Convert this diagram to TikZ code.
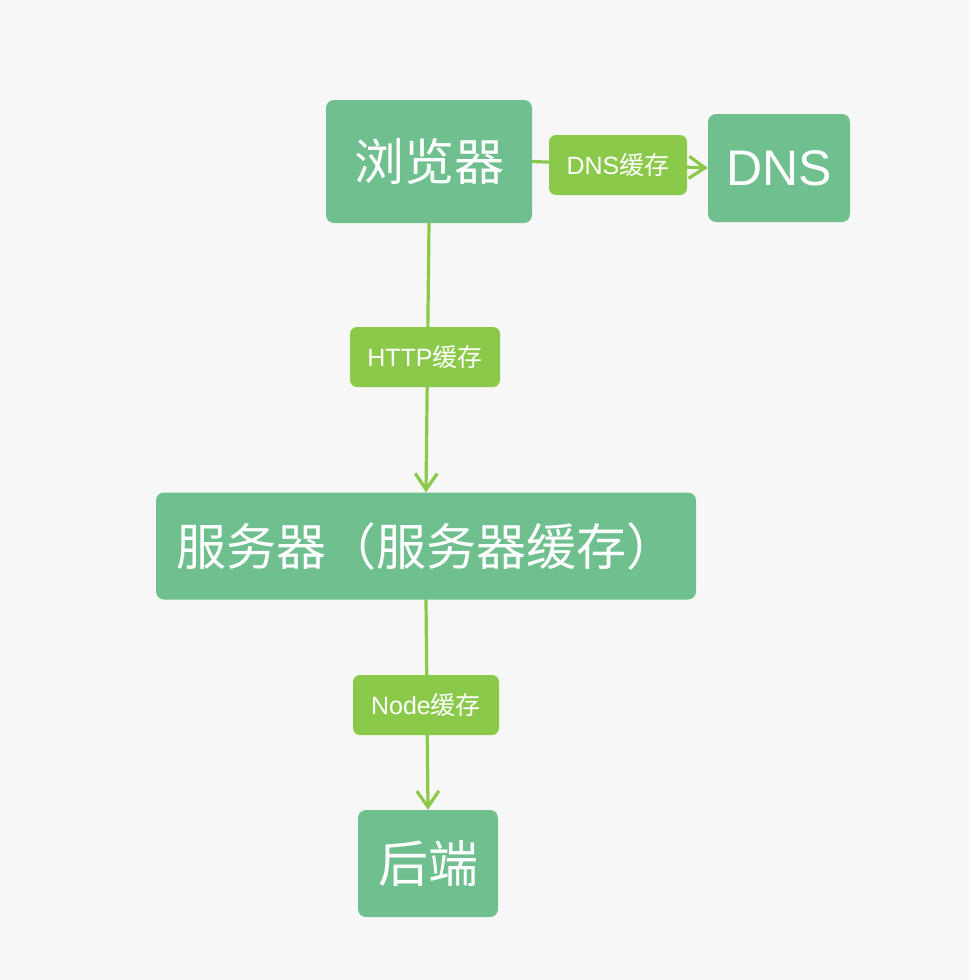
\documentclass[tikz,border=0pt]{standalone}
\usepackage{fontspec}
\setmainfont{Noto Sans CJK SC}
\newfontfamily\lat{Liberation Sans}
\usetikzlibrary{arrows.meta}
\definecolor{bg}{HTML}{F7F7F7}
\definecolor{boxgreen}{HTML}{70C08F}
\definecolor{labgreen}{HTML}{8BC94B}
\tikzset{
  bigbox/.style={fill=boxgreen, rounded corners=8pt, inner sep=0pt, text=white,
    font=\fontsize{50}{60}\selectfont, align=center},
  labbox/.style={fill=labgreen, rounded corners=7pt, inner sep=0pt, text=white,
    font=\fontsize{25}{30}\selectfont, align=center, minimum height=60pt},
  conn/.style={draw=labgreen, line width=3.2pt},
  arr/.style={conn, -{Straight Barb[length=16pt,width=22pt]}}
}
\begin{document}
\begin{tikzpicture}[x=1pt,y=-1pt]
\fill[bg] (0,0) rectangle (970,980);
\useasboundingbox (0,0) rectangle (970,980);
\node[bigbox, minimum width=206pt, minimum height=123pt] (browser) at (429,161.5) {浏览器};
\node[bigbox, minimum width=142pt, minimum height=108pt] (dns) at (779,168) {\lat DNS};
\node[bigbox, minimum width=540pt, minimum height=107pt] (server) at (426,546) {服务器（服务器缓存）};
\node[bigbox, minimum width=140pt, minimum height=107pt] (backend) at (428,863.5) {后端};
\draw[arr] (browser.east) -- (dns.west);
\draw[arr] (browser.south) -- (server.north);
\draw[arr] (server.south) -- (backend.north);
\node[labbox, minimum width=138pt] (dnslab) at (618,165) {{\lat DNS}缓存};
\node[labbox, minimum width=150pt] (httplab) at (425,357) {{\lat HTTP}缓存};
\node[labbox, minimum width=146pt] (nodelab) at (426,705) {{\lat Node}缓存};
\end{tikzpicture}
\end{document}
